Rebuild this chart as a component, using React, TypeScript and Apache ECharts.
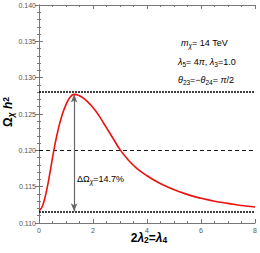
import React, { useEffect, useRef } from "react";
import * as echarts from "echarts";

const xs = [0, 0.1, 0.2, 0.3, 0.4, 0.55, 0.7, 0.85, 1.0, 1.15, 1.3, 1.5, 1.7, 1.9, 2.1, 2.3, 2.5, 2.75, 3.0, 3.3, 3.6, 4.0, 4.4, 4.8, 5.2, 5.6, 6.0, 6.5, 7.0, 7.5, 8.0];
const ys = [0.1117, 0.1121, 0.1132, 0.1148, 0.1168, 0.12, 0.1227, 0.1248, 0.1263, 0.1273, 0.1277, 0.1275, 0.127, 0.1263, 0.1254, 0.1243, 0.1231, 0.1216, 0.1201, 0.1187, 0.1176, 0.1165, 0.1156, 0.1149, 0.1143, 0.1138, 0.1134, 0.113, 0.1127, 0.1124, 0.1122];
const topLine = 0.128;
const midLine = 0.12;
const bottomLine = 0.1116;
const arrowX = 1.3;
const arrowTop = 0.1277;
const arrowBottom = 0.1116;
const xTicks = [0, 2, 4, 6, 8];
const yTicks = [0.11, 0.115, 0.12, 0.125, 0.13, 0.135, 0.14];

const FONT = "Liberation Sans, Arial, sans-serif";

export default function App() {
  const ref = useRef<HTMLDivElement>(null);
  useEffect(() => {
    document.body.style.margin = "0";
    if (!ref.current) return;
    const chart = echarts.init(ref.current, null, { renderer: "svg" });
    const axisLine = { show: true, lineStyle: { color: "#777", width: 1 } };
    const tick = { show: true, inside: true, length: 4, lineStyle: { color: "#777" } };
    const minor = (n: number) => ({ show: true, splitNumber: n, length: 2, lineStyle: { color: "#777" } });
    const lbl = { fontFamily: FONT, fontSize: 7, color: "#555" };
    const sub = { fontFamily: FONT, fontSize: 6.5, lineHeight: 6, verticalAlign: "bottom", fontStyle: "italic", color: "#222" };
    const subN = { fontFamily: FONT, fontSize: 6.5, lineHeight: 6, verticalAlign: "bottom", color: "#222" };
    const nrm = { fontFamily: FONT, fontSize: 9, lineHeight: 12, color: "#222" };
    const it = { fontFamily: FONT, fontSize: 9, lineHeight: 12, fontStyle: "italic", color: "#222" };
    chart.setOption({
      animation: false,
      grid: { left: 39, right: 4, top: 5, bottom: 30 },
      xAxis: [
        {
          type: "value", min: xTicks[0], max: xTicks[xTicks.length - 1], interval: 2,
          axisLine, axisTick: tick, minorTick: minor(4), splitLine: { show: false },
          axisLabel: { ...lbl, margin: 4 },
        },
        {
          type: "value", position: "top", min: 0, max: 8, interval: 2,
          axisLine, axisTick: tick, minorTick: minor(4), splitLine: { show: false },
          axisLabel: { show: false },
        },
      ],
      yAxis: [
        {
          type: "value", min: yTicks[0], max: yTicks[yTicks.length - 1], interval: 0.005,
          axisLine, axisTick: tick, minorTick: minor(5), splitLine: { show: false },
          axisLabel: { ...lbl, margin: 3, formatter: (v: number) => v.toFixed(3) },
        },
        {
          type: "value", position: "right", min: 0.11, max: 0.14, interval: 0.005,
          axisLine, axisTick: tick, minorTick: minor(5), splitLine: { show: false },
          axisLabel: { show: false },
        },
      ],
      series: [
        {
          type: "line",
          data: xs.map((x, i) => [x, ys[i]]),
          smooth: true,
          symbol: "none",
          lineStyle: { color: "#ee1111", width: 1.6 },
          z: 5,
          markLine: {
            silent: true,
            symbol: "none",
            precision: 6,
            label: { show: false },
            data: [
              { yAxis: topLine, lineStyle: { color: "#000", width: 1.5, type: [2, 1] } },
              { yAxis: midLine, lineStyle: { color: "#000", width: 0.9, type: [4, 3] } },
              { yAxis: bottomLine, lineStyle: { color: "#000", width: 1.5, type: [2, 1] } },
            ],
          },
        },
        {
          type: "line",
          data: [],
          markLine: {
            silent: true,
            symbol: ["arrow", "arrow"],
            symbolSize: [5, 8],
            precision: 6,
            label: { show: false },
            lineStyle: { color: "#666", width: 1.2, type: "solid" },
            itemStyle: { color: "#111" },
            data: [[{ coord: [arrowX, arrowTop] }, { coord: [arrowX, arrowBottom] }]],
          },
        },
      ],
      graphic: [
        {
          type: "text", x: 8, y: 112, rotation: Math.PI / 2,
          style: {
            text: "{b|Ω}{s|χ}{b| }{bi|h}{p|2}",
            align: "center", verticalAlign: "middle",
            rich: {
              b: { fontFamily: FONT, fontSize: 12, fontWeight: "bold", lineHeight: 14, color: "#111" },
              bi: { fontFamily: FONT, fontSize: 12, fontWeight: "bold", fontStyle: "italic", lineHeight: 14, color: "#111" },
              s: { fontFamily: FONT, fontSize: 8.5, fontWeight: "bold", fontStyle: "italic", lineHeight: 9, verticalAlign: "bottom", color: "#111" },
              p: { fontFamily: FONT, fontSize: 8.5, fontWeight: "bold", lineHeight: 9, verticalAlign: "top", color: "#111" },
            },
          },
        },
        {
          type: "text", x: 149, y: 238,
          style: {
            text: "{b|2}{bi|λ}{s|2}{b|=}{bi|λ}{s|4}",
            align: "center", verticalAlign: "middle",
            rich: {
              b: { fontFamily: FONT, fontSize: 12, fontWeight: "bold", lineHeight: 13, color: "#111" },
              bi: { fontFamily: FONT, fontSize: 12, fontWeight: "bold", fontStyle: "italic", lineHeight: 13, color: "#111" },
              s: { fontFamily: FONT, fontSize: 8.5, fontWeight: "bold", lineHeight: 9, verticalAlign: "bottom", color: "#111" },
            },
          },
        },
        {
          type: "text", x: 181, y: 43,
          style: {
            text: "{i|m}{s|χ}{n|= 14 TeV}",
            align: "left", verticalAlign: "middle",
            rich: { i: it, n: nrm, s: sub },
          },
        },
        {
          type: "text", x: 178, y: 62,
          style: {
            text: "{i|λ}{sn|5}{n|= 4}{i|π}{n|, }{i|λ}{sn|3}{n|=1.0}",
            align: "left", verticalAlign: "middle",
            rich: { i: it, n: nrm, sn: subN },
          },
        },
        {
          type: "text", x: 178, y: 80,
          style: {
            text: "{i|θ}{sn|23}{n|=−}{i|θ}{sn|24}{n|= }{i|π}{n|/2}",
            align: "left", verticalAlign: "middle",
            rich: { i: it, n: nrm, sn: subN },
          },
        },
        {
          type: "text", x: 77, y: 179,
          style: {
            text: "{n|ΔΩ}{s|χ}{n|=14.7%}",
            align: "left", verticalAlign: "middle",
            rich: { n: { ...nrm, color: "#333" }, s: { ...sub, color: "#333" } },
          },
        },
      ],
    });
    return () => chart.dispose();
  }, []);
  return <div ref={ref} style={{ width: 260, height: 253 }} />;
}
